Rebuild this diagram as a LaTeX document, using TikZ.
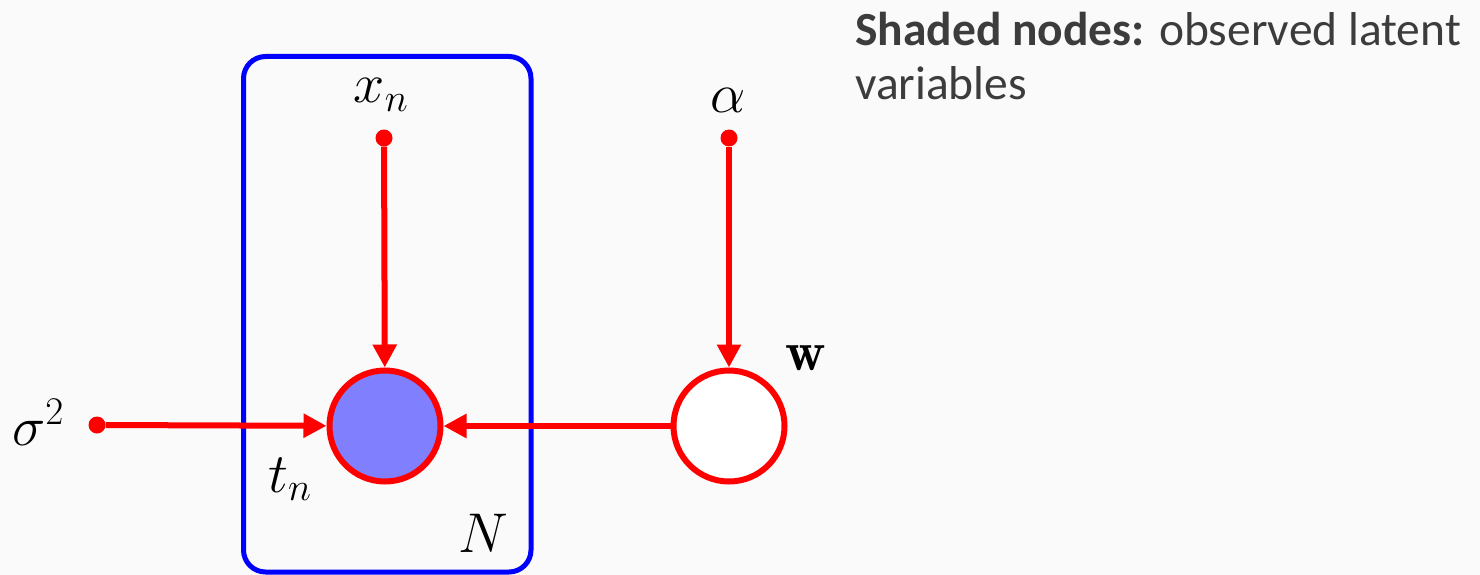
\RequirePackage{fix-cm}
\documentclass[tikz,border=0pt]{standalone}
\usepackage{fontspec}
\newfontfamily\notefont{Carlito}
\usetikzlibrary{arrows.meta}
\definecolor{bg}{HTML}{FAFAFA}
\definecolor{notegray}{HTML}{3C3C3C}
\definecolor{shade}{HTML}{8080FF}
\tikzset{
  mathlbl/.style={font=\fontsize{56}{60}\selectfont, inner sep=0pt, anchor=base},
  var/.style={circle, draw=red, line width=6pt, minimum size=111pt, inner sep=0pt},
  dotnode/.style={circle, fill=red, minimum size=17pt, inner sep=0pt},
  edge/.style={draw=red, line width=6pt, -{Triangle[length=23pt,width=23pt]}},
  plate/.style={draw=blue, line width=5pt, rounded corners=22pt},
  note/.style={font=\notefont\fontsize{47.5}{53}\selectfont, text=notegray, inner sep=0pt, anchor=base west}
}
\begin{document}
\begin{tikzpicture}[x=1pt, y=-1pt]
\fill[bg] (0,0) rectangle (1480,575);
\useasboundingbox (0,0) rectangle (1480,575);
\draw[plate] (243.5,56.5) rectangle (531,572);
\node[var, fill=shade] (tn) at (385,426) {};
\node[var, fill=white] (w) at (729,426) {};
\node[dotnode] (xn) at (384,138) {};
\node[dotnode] (alpha) at (729,138) {};
\node[dotnode] (sigma) at (97,425) {};
\draw[edge] (xn) -- (tn);
\draw[edge] (alpha) -- (w);
\draw[edge] (sigma) -- (tn);
\draw[edge] (w) -- (tn);
\node[mathlbl] (lxn) at (381,103) {$x_n$};
\node[mathlbl] (lalpha) at (728.5,113) {$\alpha$};
\node[mathlbl] (lw) at (806,370) {$\mathbf{w}$};
\node[mathlbl] (lsigma) at (38,445) {$\sigma^2$};
\node[mathlbl] (ltn) at (290,492) {$t_n$};
\node[mathlbl] (lN) at (483,552) {$N$};
\node[note] (note1) at (855,46) {\textbf{Shaded nodes:} observed latent};
\node[note] (note2) at (855,100) {variables};
\end{tikzpicture}
\end{document}
